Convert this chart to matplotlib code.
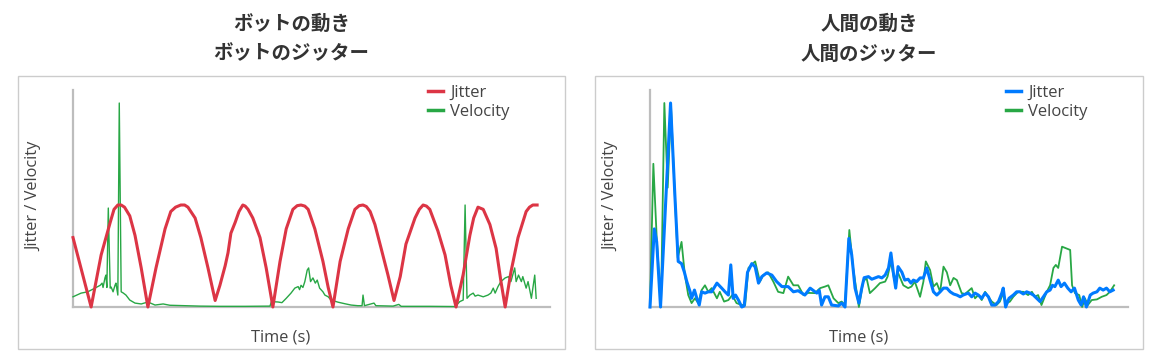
import matplotlib
matplotlib.use("Agg")
import matplotlib.pyplot as plt
from matplotlib.patches import Rectangle

# Bot panel: jitter (red) and velocity (green), time in seconds
bot_jitter_t = [0.00, 0.38, 0.59, 0.78, 0.86, 0.94, 1.01, 1.08, 1.19, 1.30, 1.43, 1.57, 1.74,
                1.93, 2.05, 2.15, 2.26, 2.34, 2.41, 2.56, 2.68, 2.83, 2.98, 3.08, 3.19, 3.25,
                3.31, 3.40, 3.48, 3.56, 3.61, 3.67, 3.77, 3.92, 4.05, 4.19, 4.34, 4.47, 4.61,
                4.70, 4.78, 4.86, 4.93, 5.07, 5.24, 5.35, 5.45, 5.60, 5.77, 5.91, 6.00, 6.08,
                6.15, 6.23, 6.33, 6.46, 6.60, 6.73, 6.86, 6.98, 7.17, 7.26, 7.34, 7.41, 7.48,
                7.65, 7.80, 7.92, 8.03, 8.18, 8.32, 8.40, 8.49, 8.60, 8.74, 8.87, 8.97, 9.06,
                9.18, 9.33, 9.50, 9.57, 9.64, 9.73]
bot_jitter = [32, 0, 24, 39, 45, 47, 47, 46, 42, 33, 18, 0, 18,
              36, 44, 46, 47, 47, 46, 41, 32, 18, 3, 10, 19, 25,
              34, 39, 44, 47, 46.5, 45, 41, 32, 18, 0, 21, 36, 45,
              46.7, 47, 46.5, 45, 36, 21, 9, 0, 21, 36, 45, 46.7, 47,
              46.3, 44, 38, 27, 15, 3, 14, 29, 41, 45, 47, 46.5, 45,
              35, 24, 10, 0, 15, 33, 41, 46, 45, 38, 27, 12, 0,
              16, 32, 44, 46, 47, 47]

bot_vel_t = [0.00, 0.17, 0.31, 0.46, 0.57, 0.61, 0.63, 0.67, 0.69, 0.71, 0.74, 0.78, 0.80,
             0.84, 0.88, 0.90, 0.94, 0.97, 1.01, 1.05, 1.11, 1.19, 1.30, 1.43, 1.57, 1.72,
             1.89, 2.03, 2.35, 2.66, 3.08, 3.61, 4.13, 4.16, 4.30, 4.38, 4.47, 4.57, 4.65,
             4.72, 4.75, 4.78, 4.82, 4.86, 4.91, 4.94, 4.98, 5.03, 5.08, 5.12, 5.17, 5.24,
             5.28, 5.35, 5.41, 5.56, 5.70, 5.83, 5.97, 6.06, 6.08, 6.11, 6.31, 6.35, 6.71,
             6.83, 6.88, 7.48, 8.01, 8.11, 8.18, 8.22, 8.26, 8.32, 8.39, 8.43, 8.49, 8.60,
             8.70, 8.76, 8.81, 8.85, 8.91, 8.97, 9.06, 9.13, 9.18, 9.26, 9.29, 9.34, 9.40,
             9.43, 9.50, 9.54, 9.61, 9.68, 9.71]
bot_vel = [4.7, 6.4, 7.0, 8.7, 10, 11, 9, 13.4, 14.7, 9, 45.6, 8.7, 9.2,
           7, 10, 11, 5.5, 94, 7, 6.5, 5.5, 3.2, 1.8, 1.4, 2.3, 0.9,
           1.4, 0.8, 0.6, 0.4, 0.3, 0.3, 0.4, 2.5, 2.3, 2.0, 4, 6.4, 8.7,
           9.4, 8, 10, 9, 11.7, 17, 18, 11.7, 13.4, 11, 12.4, 8.7, 7,
           5.5, 4.7, 3.2, 2.2, 1.5, 0.9, 0.6, 0.6, 5.5, 0.6, 1.8, 0.6, 0.4,
           1.2, 0.3, 0.3, 0.2, 2.5, 3.2, 47, 4, 5.5, 6.4, 5, 5.5, 4.7,
           5.5, 6.4, 8.7, 6.4, 9.4, 11.7, 13.4, 14, 11.7, 18, 11.7, 14.7, 11.7,
           14, 8.7, 11.7, 4, 14.7, 4]

# Human panel: jitter (blue) and velocity (green)
hum_jitter_t = [0.00, 0.09, 0.14, 0.22, 0.43, 0.52, 0.59, 0.66, 0.72, 0.77, 0.84, 0.87, 0.93,
                0.98, 1.03, 1.08, 1.15, 1.22, 1.29, 1.40, 1.50, 1.57, 1.64, 1.69, 1.74, 1.79,
                1.85, 1.92, 1.97, 2.04, 2.13, 2.20, 2.27, 2.34, 2.44, 2.55, 2.65, 2.76, 2.89,
                3.00, 3.10, 3.24, 3.35, 3.49, 3.54, 3.59, 3.66, 3.73, 3.80, 3.94, 4.01, 4.08,
                4.16, 4.22, 4.29, 4.37, 4.43, 4.48, 4.57, 4.64, 4.71, 4.78, 4.85, 4.92, 4.99,
                5.04, 5.09, 5.14, 5.19, 5.27, 5.33, 5.40, 5.46, 5.51, 5.58, 5.65, 5.72, 5.79,
                5.86, 5.93, 6.00, 6.07, 6.14, 6.21, 6.28, 6.35, 6.42, 6.49, 6.55, 6.66, 6.73,
                6.80, 6.87, 6.94, 7.01, 7.08, 7.15, 7.22, 7.29, 7.36, 7.39, 7.44, 7.51, 7.60,
                7.67, 7.74, 7.81, 7.88, 7.95, 8.02, 8.09, 8.16, 8.23, 8.30, 8.37, 8.42, 8.47,
                8.54, 8.60, 8.67, 8.74, 8.81, 8.88, 8.96, 9.02, 9.07, 9.13, 9.21, 9.27, 9.35,
                9.41, 9.48, 9.55, 9.62, 9.69]
hum_jitter = [0, 36, 30, 0, 94, 51.6, 21, 20, 16, 11.7, 7, 4, 7.8,
              4, 0.9, 7, 6.4, 7, 7, 11, 8.7, 7, 5.5, 19.4, 4, 5.5,
              3.2, 0, 0.5, 16, 20, 18.5, 11, 14, 15.7, 14.7, 11.7, 9.4, 9.4,
              7, 7.5, 5.5, 8.7, 6.4, 7.8, 0.9, 4.7, 4.7, 0.9, 0.5, 1.8, 0,
              31.6, 24, 8.7, 1.8, 8.7, 13.5, 14, 12.8, 13.4, 14, 13.4, 14.7, 18,
              24.9, 16, 8.7, 18.6, 16, 12.4, 12.8, 11, 12.4, 11.7, 13.4, 13.4, 18,
              12.4, 7, 5.5, 7, 8.7, 8.7, 7, 6, 5.5, 4.7, 5.5, 6.4, 4.7,
              6.4, 5.5, 4, 6.4, 4.7, 0.9, 0.9, 2.5, 6.4, 8.7, 0, 4, 5.5,
              7, 7, 6, 7, 6.4, 5.5, 4, 2.5, 4.7, 7, 7.8, 10, 9.4,
              12.4, 9.4, 11, 8.7, 7, 8.7, 3.2, 0.9, 4.7, 0, 5.5, 6.4, 7,
              8.7, 7.8, 8.7, 7, 7.8]

hum_vel_t = [0.00, 0.07, 0.14, 0.23, 0.30, 0.37, 0.44, 0.51, 0.58, 0.66, 0.73, 0.80, 0.87,
             0.94, 1.01, 1.08, 1.15, 1.22, 1.29, 1.40, 1.46, 1.55, 1.64, 1.72, 1.81, 1.92,
             1.99, 2.06, 2.20, 2.30, 2.37, 2.47, 2.58, 2.68, 2.79, 2.89, 3.00, 3.10, 3.21,
             3.31, 3.45, 3.56, 3.66, 3.73, 3.84, 3.94, 4.01, 4.08, 4.17, 4.25, 4.37, 4.46,
             4.53, 4.60, 4.71, 4.81, 4.92, 4.97, 5.04, 5.11, 5.19, 5.30, 5.40, 5.47, 5.54,
             5.65, 5.72, 5.77, 5.86, 5.93, 6.00, 6.07, 6.14, 6.21, 6.28, 6.35, 6.42, 6.52,
             6.59, 6.73, 6.80, 6.87, 6.94, 7.01, 7.08, 7.15, 7.25, 7.32, 7.39, 7.46, 7.53,
             7.60, 7.70, 7.81, 7.91, 7.99, 8.05, 8.12, 8.19, 8.30, 8.37, 8.44, 8.49, 8.54,
             8.62, 8.79, 8.83, 8.89, 8.98, 9.04, 9.10, 9.16, 9.24, 9.35, 9.45, 9.55, 9.62,
             9.71]
hum_vel = [0, 66, 32, 0, 94, 55, 92, 56, 22.6, 30, 14.7, 5.5, 1.8,
           4, 1.8, 7.8, 10, 7, 8.7, 4, 7, 2.5, 3.2, 5.5, 1.8, 0.9,
           0.9, 18, 21, 11.7, 14.7, 16, 11.7, 7, 6.4, 14, 10, 10, 5.5,
           6.5, 6.4, 8.7, 9.4, 10, 4, 1.8, 2.5, 0.9, 35.5, 18, 0, 11.7,
           13.4, 6.4, 8.7, 11, 11.7, 14, 21, 12.4, 15.7, 10, 8.7, 9.4, 11.7,
           4.7, 11.7, 21, 17, 9.4, 11, 7, 18.6, 16, 10, 13.4, 12.4, 6.4,
           6, 8.7, 4, 5.5, 3.2, 7, 4.7, 2.5, 0.9, 2.5, 6.4, 1.8, 2.5,
           4.7, 7, 7, 5.5, 7, 4.7, 5.5, 0.9, 7, 10, 18, 19.4, 18,
           27.8, 26.3, 10, 6.4, 5.5, 0, 4, 0.9, 3.2, 3.5, 4.7, 5.5, 7,
           10]

RED = "#dc3545"
GREEN = "#28a745"
BLUE = "#007bff"
TEXT = "#444444"
AXIS = "#bdbdbd"

fig = plt.figure(figsize=(11.6, 3.62), dpi=100)
W, H = 1160, 362


def fig_box(x0, y0, x1, y1):
    # pixel box (top-left origin) -> figure fraction rect
    return [x0 / W, 1 - y1 / H, (x1 - x0) / W, (y1 - y0) / H]


def make_panel(box_px, ax_px, titles, jt, jv, vt, vv, jcolor, vlw):
    l, b, w, h = fig_box(*box_px)
    fig.patches.append(Rectangle((l, b), w, h, transform=fig.transFigure,
                                 facecolor="none", edgecolor="#cccccc", lw=1))
    cx = (box_px[0] + box_px[2]) / 2 / W
    fig.text(cx, 1 - 24 / H, titles[0], ha="center", va="center", fontsize=14,
             fontweight="bold", color="#333333", family=["Noto Sans CJK JP", "DejaVu Sans"])
    fig.text(cx, 1 - 54 / H, titles[1], ha="center", va="center", fontsize=14,
             fontweight="bold", color="#333333", family=["Noto Sans CJK JP", "DejaVu Sans"])

    ax = fig.add_axes(fig_box(*ax_px))
    ax.plot(jt, jv, color=jcolor, lw=2.2, label="Jitter", zorder=4, clip_on=False,
            solid_joinstyle="round")
    ax.plot(vt, vv, color=GREEN, lw=vlw, label="Velocity", zorder=3, clip_on=False)
    ax.set_xlim(0, 10)
    ax.set_ylim(0, 100)
    ax.set_xticks([])
    ax.set_yticks([])
    for s in ["top", "right"]:
        ax.spines[s].set_visible(False)
    for s in ["left", "bottom"]:
        ax.spines[s].set_color(AXIS)
        ax.spines[s].set_linewidth(1.6)
    ax.set_xlabel("Time (s)", fontsize=11.8, color=TEXT, family="Open Sans")
    ax.xaxis.set_label_coords(0.436, -0.102)
    ax.set_ylabel("Jitter / Velocity", fontsize=11.8, color=TEXT, family="Open Sans")
    ax.yaxis.set_label_coords(-0.064, 0.51)
    leg = ax.legend(loc="upper left", bbox_to_anchor=(0.744, 1.025), frameon=False,
                    borderaxespad=0, borderpad=0, handlelength=0.9, handletextpad=0.45,
                    labelspacing=0.2, prop={"family": "Open Sans", "size": 12})
    for txt in leg.get_texts():
        txt.set_color(TEXT)
    for line in leg.get_lines():
        line.set_linewidth(2.5)
    return ax


make_panel((18, 76, 565, 349), (73, 90, 550, 307), ["ボットの動き", "ボットのジッター"],
           bot_jitter_t, bot_jitter, bot_vel_t, bot_vel, RED, 1.0)
make_panel((595, 76, 1143, 349), (650, 90, 1128, 307), ["人間の動き", "人間のジッター"],
           hum_jitter_t, hum_jitter, hum_vel_t, hum_vel, BLUE, 1.3)

fig.savefig("out.png", dpi=100)
